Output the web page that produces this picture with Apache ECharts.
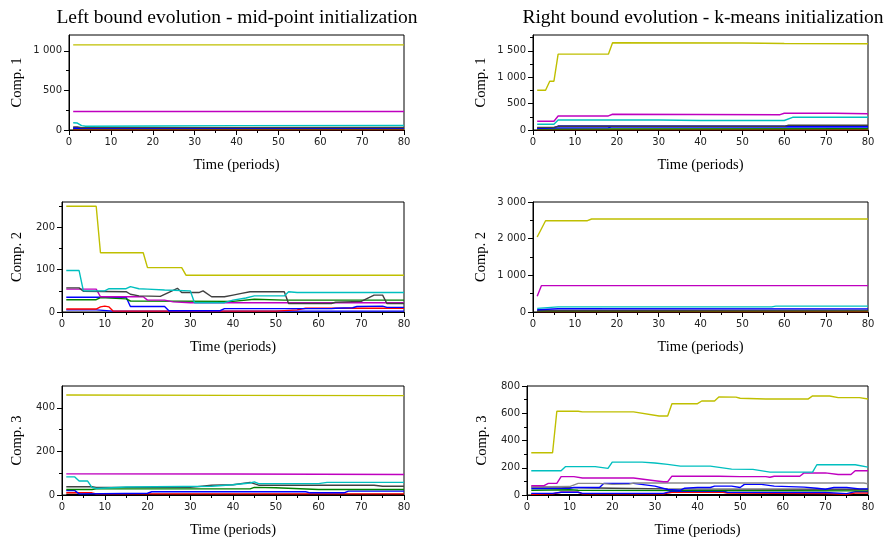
<!DOCTYPE html>
<html><head><meta charset="utf-8">
<script src="https://cdn.jsdelivr.net/npm/echarts@6/dist/echarts.min.js"></script>
<style>html,body{margin:0;padding:0;background:#fff}#c{width:887px;height:544px}</style>
</head><body><div id="c"></div>
<script>
// ---------- titles / axis names ----------
const titles = ['Left bound evolution - mid-point initialization', 'Right bound evolution - k-means initialization'];
const yNames = ['Comp. 1', 'Comp. 1', 'Comp. 2', 'Comp. 2', 'Comp. 3', 'Comp. 3'];
const xName = 'Time (periods)';
const xTicks = [0, 10, 20, 30, 40, 50, 60, 70, 80];
const yMax = [1200, 1800, 260, 3000, 500, 800];
const yTicks = [
  [0, 500, 1000],
  [0, 500, 1000, 1500],
  [0, 100, 200],
  [0, 1000, 2000, 3000],
  [0, 200, 400],
  [0, 200, 400, 600, 800]
];

// ---------- Panel 1: left bound, Comp. 1 ----------
const L1_olive = [[1,1075],[80,1075]];
const L1_magenta = [[1,233],[80,233]];
const L1_cyan = [[1,92],[2,88],[3,55],[4,48],[20,50],[40,55],[80,57]];
const L1_dgray = [[1,40],[2,40],[3,30],[80,32]];
const L1_blue = [[1,30],[80,30]];
const L1_blue2 = [[1,22],[80,22]];
const L1_green = [[1,15],[80,15]];
const L1_red = [[1,5],[80,5]];
const L1_black = [[1,2],[80,2]];

// ---------- Panel 2: right bound, Comp. 1 ----------
const R1_olive = [[1,754],[3,754],[4,925],[5,925],[6,1437],[18,1437],[19,1652],[50,1648],[60,1640],[80,1635]];
const R1_magenta = [[1,165],[5,165],[6,266],[18,266],[19,298],[59,290],[60,317],[72,317],[80,308]];
const R1_cyan = [[1,108],[5,108],[6,190],[30,190],[40,180],[60,180],[62,241],[80,241]];
const R1_dgray = [[1,50],[5,50],[6,70],[60,70],[61,90],[80,90]];
const R1_blue = [[1,40],[5,45],[6,75],[80,70]];
const R1_blue2 = [[1,30],[6,40],[18,45],[19,60],[80,55]];
const R1_green = [[1,20],[80,25]];
const R1_red = [[1,8],[80,8]];

// ---------- Panel 3: left bound, Comp. 2 ----------
const L2_olive = [[1,250],[8,250],[9,140],[19,140],[20,105],[28,105],[29,87],[80,87]];
const L2_cyan = [[1,98],[4,98],[5,50],[10,50],[11,55],[15,55],[16,60],[18,55],[20,54],[24,52],[30,50],[31,22],[38,22],[40,28],[43,33],[45,38],[52,38],[53,48],[55,46],[80,46]];
const L2_dgray = [[1,57],[4,57],[5,49],[15,48],[16,42],[18,38],[23,37],[27,56],[28,46],[32,46],[33,50],[35,36],[38,36],[40,40],[42,44],[44,48],[52,48],[53,20],[63,20],[64,23],[70,25],[73,40],[75,40],[76,20],[80,20]];
const L2_magenta = [[1,54],[8,54],[9,36],[19,36],[20,28],[24,28],[26,24],[30,22],[80,22]];
const L2_green = [[1,29],[8,29],[9,34],[15,31],[16,26],[40,25],[45,30],[52,28],[80,28]];
const L2_blue = [[1,35],[15,35],[16,13],[24,13],[25,3],[37,3],[38,8],[63,8],[64,9],[68,10],[69,13],[75,14],[76,11],[80,11]];
const L2_red = [[1,7],[8,7],[9,12],[10,14],[11,12],[12,2],[50,2],[55,5],[57,9],[80,9]];
const L2_blue2 = [[1,5],[8,5],[12,2],[80,2]];

// ---------- Panel 4: right bound, Comp. 2 ----------
const R2_olive = [[1,2045],[3,2490],[13,2490],[14,2536],[80,2536]];
const R2_magenta = [[1,427],[2,718],[80,718]];
const R2_cyan = [[1,100],[6,140],[57,140],[58,160],[80,160]];
const R2_blue = [[1,60],[6,90],[80,85]];
const R2_dgray = [[1,40],[80,50]];
const R2_green = [[1,25],[80,30]];
const R2_red = [[1,10],[80,10]];
const R2_black = [[1,3],[80,3]];

// ---------- Panel 5: left bound, Comp. 3 ----------
const L3_olive = [[1,459],[40,457],[80,456]];
const L3_magenta = [[1,97],[40,96],[80,94]];
const L3_cyan = [[1,83],[3,83],[4,64],[6,64],[7,35],[8,30],[15,37],[35,40],[40,47],[44,55],[45,60],[46,52],[60,52],[62,58],[80,58]];
const L3_dgray = [[1,38],[7,38],[8,35],[30,35],[35,45],[40,47],[44,58],[46,45],[73,45],[75,40],[80,40]];
const L3_green = [[1,25],[7,25],[8,28],[44,28],[45,35],[50,33],[60,25],[80,25]];
const L3_blue = [[1,20],[3,20],[4,5],[20,8],[21,15],[57,15],[58,10],[66,10],[67,18],[80,18]];
const L3_red = [[1,10],[7,10],[8,5],[80,5]];
const L3_black = [[1,2],[80,2]];

// ---------- Panel 6: right bound, Comp. 3 ----------
const R3_olive = [[1,310],[6,310],[7,615],[12,615],[13,610],[25,610],[31,580],[33,580],[34,670],[40,670],[41,690],[44,690],[45,720],[49,718],[50,710],[56,705],[66,705],[67,727],[71,727],[73,715],[78,715],[80,705]];
const R3_cyan = [[1,178],[8,178],[9,208],[16,208],[19,195],[20,241],[27,241],[30,235],[33,225],[36,212],[43,212],[48,190],[53,188],[57,168],[67,168],[68,222],[77,222],[80,205]];
const R3_magenta = [[1,68],[4,68],[5,85],[7,85],[8,135],[11,135],[13,125],[25,125],[30,105],[32,97],[33,97],[34,138],[45,138],[50,135],[56,135],[57,130],[58,138],[64,138],[65,162],[70,162],[73,150],[76,150],[77,178],[80,178]];
const R3_gray = [[1,60],[10,62],[12,85],[17,85],[20,78],[24,80],[25,88],[79,88],[80,83]];
const R3_blue = [[1,48],[10,50],[11,55],[17,55],[18,85],[25,85],[30,65],[33,40],[36,35],[37,50],[40,55],[43,55],[44,65],[48,65],[50,55],[51,78],[55,78],[58,65],[65,58],[68,50],[70,42],[72,55],[75,55],[78,45],[80,45]];
const R3_dgray = [[1,58],[8,58],[10,55],[20,50],[33,45],[80,42]];
const R3_green = [[1,35],[10,38],[12,35],[40,33],[80,30]];
const R3_blue2 = [[1,12],[6,12],[8,20],[12,20],[13,12],[32,12],[34,28],[46,28],[47,20],[70,18],[75,10],[77,25],[80,25]];
const R3_red = [[1,5],[6,8],[8,20],[12,20],[13,8],[32,8],[34,20],[46,20],[47,15],[70,10],[75,5],[77,15],[80,15]];
const R3_black = [[1,2],[80,2]];

// ---------- styling / layout ----------
const C = {olive:'#bfbf00', magenta:'#bf00bf', cyan:'#00bfbf', blue:'#0000ff', green:'#008000', red:'#ff0000', dgray:'#404040', gray:'#8c8c8c', black:'#000000'};
const panelSeries = [
  [[L1_black,'black'],[L1_red,'red'],[L1_green,'green'],[L1_blue2,'blue'],[L1_blue,'blue'],[L1_dgray,'dgray'],[L1_cyan,'cyan'],[L1_magenta,'magenta'],[L1_olive,'olive']],
  [[R1_red,'red'],[R1_green,'green'],[R1_blue2,'blue'],[R1_blue,'blue'],[R1_dgray,'dgray'],[R1_cyan,'cyan'],[R1_magenta,'magenta'],[R1_olive,'olive']],
  [[L2_blue2,'blue'],[L2_red,'red'],[L2_blue,'blue'],[L2_green,'green'],[L2_magenta,'magenta'],[L2_dgray,'dgray'],[L2_cyan,'cyan'],[L2_olive,'olive']],
  [[R2_black,'black'],[R2_red,'red'],[R2_green,'green'],[R2_dgray,'dgray'],[R2_blue,'blue'],[R2_cyan,'cyan'],[R2_magenta,'magenta'],[R2_olive,'olive']],
  [[L3_black,'black'],[L3_red,'red'],[L3_blue,'blue'],[L3_green,'green'],[L3_dgray,'dgray'],[L3_cyan,'cyan'],[L3_magenta,'magenta'],[L3_olive,'olive']],
  [[R3_black,'black'],[R3_red,'red'],[R3_blue2,'blue'],[R3_green,'green'],[R3_dgray,'dgray'],[R3_blue,'blue'],[R3_gray,'gray'],[R3_magenta,'magenta'],[R3_cyan,'cyan'],[R3_olive,'olive']]
];
const grids = [
  {left:69, top:35, width:335, height:95},
  {left:533, top:35, width:335, height:95},
  {left:62, top:202, width:342, height:110},
  {left:533, top:202, width:335, height:110},
  {left:62, top:386, width:342, height:109},
  {left:527, top:386, width:341, height:109}
];
const yNameGap = [44, 44, 37, 44, 37, 37];

const fmt = v => String(v).replace(/\B(?=(\d{3})+(?!\d))/g, ' ');
const serif = 'Liberation Serif';
const sans = 'DejaVu Sans';

const option = {
  animation: false,
  backgroundColor: '#fff',
  title: [
    {text: titles[0], left: 232, top: 3, textAlign: 'center', textStyle: {fontFamily: serif, fontSize: 19.5, fontWeight: 'normal', color: '#000'}},
    {text: titles[1], left: 698, top: 3, textAlign: 'center', textStyle: {fontFamily: serif, fontSize: 19.5, fontWeight: 'normal', color: '#000'}}
  ],
  grid: grids.map(g => Object.assign({show: true, borderColor: '#000', borderWidth: 1, backgroundColor: 'transparent'}, g)),
  xAxis: [], yAxis: [], series: []
};

grids.forEach((g, i) => {
  option.xAxis.push({
    type: 'value', gridIndex: i, min: 0, max: 80, interval: 10,
    name: xName, nameLocation: 'middle', nameGap: 28,
    nameTextStyle: {fontFamily: serif, fontSize: 14.5, color: '#000'},
    axisLine: {show: true, lineStyle: {color: '#000', width: 1}},
    axisTick: {show: true, inside: false, length: 5, lineStyle: {color: '#000'}},
    minorTick: {show: true, splitNumber: 2, length: 3, lineStyle: {color: '#000'}},
    splitLine: {show: false}, minorSplitLine: {show: false},
    axisLabel: {fontFamily: sans, fontSize: 10, color: '#222', margin: 7, customValues: xTicks}
  });
  const maj = yTicks[i];
  const step = maj[1] - maj[0];
  const minor = maj.map(v => v + step / 2).filter(v => v < yMax[i]);
  option.yAxis.push({
    type: 'value', gridIndex: i, min: 0, max: yMax[i],
    name: yNames[i], nameLocation: 'middle', nameGap: yNameGap[i], nameRotate: 90,
    nameTextStyle: {fontFamily: serif, fontSize: 14.5, color: '#000'},
    axisLine: {show: true, lineStyle: {color: '#000', width: 1}},
    axisTick: {show: true, inside: false, length: 5, customValues: maj, lineStyle: {color: '#000'}},
    splitLine: {show: false},
    axisLabel: {fontFamily: sans, fontSize: 10, color: '#222', margin: 7, customValues: maj, formatter: v => fmt(v)}
  });
  option.yAxis.push({
    type: 'value', gridIndex: i, min: 0, max: yMax[i], position: 'left',
    axisLine: {show: false},
    axisTick: {show: true, inside: false, length: 3, customValues: minor, lineStyle: {color: '#000'}},
    splitLine: {show: false},
    axisLabel: {show: false, customValues: minor}
  });
  panelSeries[i].forEach(([data, col]) => {
    option.series.push({
      type: 'line', xAxisIndex: i, yAxisIndex: 2 * i, data: data,
      showSymbol: false, symbol: 'none', silent: true,
      lineStyle: {color: C[col], width: 1.4}, itemStyle: {color: C[col]}
    });
  });
});

const chart = echarts.init(document.getElementById('c'), null, {renderer: 'canvas'});
chart.setOption(option);
</script></body></html>
